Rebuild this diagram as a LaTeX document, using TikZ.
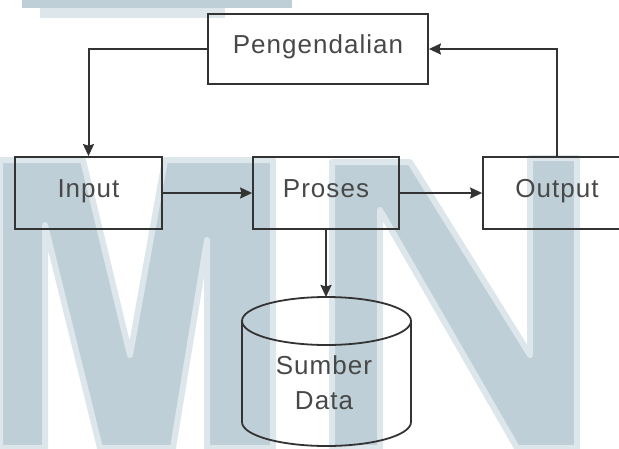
\documentclass[tikz,border=0pt]{standalone}
\usepackage{fontspec}
\setmainfont{Liberation Sans}[LetterSpace=4]
\usetikzlibrary{arrows.meta}
\definecolor{wmark}{RGB}{190,207,215}
\definecolor{wpale}{RGB}{220,230,235}
\definecolor{ink}{RGB}{51,51,51}
\definecolor{txt}{RGB}{72,72,72}
\begin{document}
\begin{tikzpicture}[x=1pt,y=-1pt,>={Stealth[length=12pt,width=11pt,inset=1.5pt]},
  box/.style={draw=ink,line width=1.8pt,text=txt,inner sep=0pt,text height=19pt,text depth=11pt,font=\fontsize{26}{35}\selectfont},
  conn/.style={draw=ink,line width=2pt,->},
  wm/.style={fill=wmark,draw=wpale,line width=6pt,line join=round}]
\useasboundingbox (0,0) rectangle (619,448);
\clip (0,0) rectangle (619,448);

\fill[wpale] (40,8) rectangle (225,18);
\fill[wmark] (22,0) rectangle (292,8);
\path[wm] (0,160)--(83,160)--(130,355)--(165,160)--(273,160)--(273,448)--(207,448)--(207,240)--(173,448)--(100,448)--(45,225)--(45,448)--(0,448)--cycle;
\path[wm] (332,162)--(410,162)--(530,355)--(530,158)--(577,158)--(577,448)--(517,448)--(380,210)--(380,448)--(332,448)--cycle;

\node[box,minimum width=220pt,minimum height=70pt] (pengendalian) at (318,49) {Pengendalian};
\node[box,minimum width=147pt,minimum height=72pt] (input) at (88.5,193) {Input};
\node[box,minimum width=146pt,minimum height=72pt] (proses) at (326,193) {Proses};
\node[box,minimum width=148pt,minimum height=72pt] (output) at (557,193) {Output};

\draw[ink,line width=1.8pt] (242,321) -- (242,422) arc[start angle=180,end angle=0,x radius=84.5,y radius=24] -- (411,321);
\draw[ink,line width=1.8pt] (326.5,321) ellipse[x radius=84.5,y radius=24];
\node[text=txt,font=\fontsize{26}{35}\selectfont,align=center] (data) at (324,383) {Sumber\\Data};
\coordinate (dbtop) at (326,297);

\draw[conn] (input) -- (proses);
\draw[conn] (proses) -- (output);
\draw[conn] (proses) -- (dbtop);
\draw[conn] (output.north) |- (pengendalian.east);
\draw[conn] (pengendalian.west) -| (input.north);
\end{tikzpicture}
\end{document}
